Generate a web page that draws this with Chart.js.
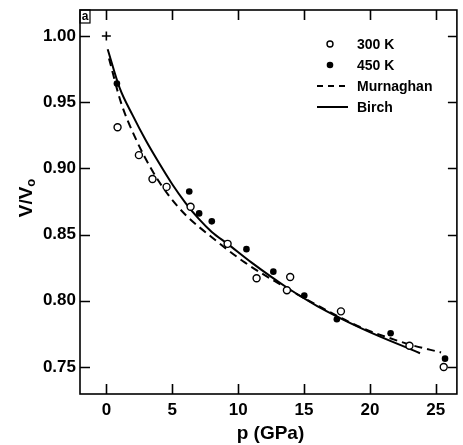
<!DOCTYPE html>
<html>
<head>
<meta charset="utf-8">
<script src="https://cdn.jsdelivr.net/npm/chart.js@4/dist/chart.umd.min.js"></script>
<style>
html, body { margin: 0; padding: 0; background: #fff; }
#wrap { width: 463px; height: 445px; }
</style>
</head>
<body>
<div id="wrap"><canvas id="myChart" width="463" height="445"></canvas></div>
<script>
// tick values
const xTicks = [0, 5, 10, 15, 20, 25];
const yTicks = [0.75, 0.80, 0.85, 0.90, 0.95, 1.00];

// measured points, 300 K (open circles)
const p300 = [0.85, 2.47, 3.5, 4.57, 6.39, 9.2, 11.4, 13.7, 13.95, 17.8, 23.0, 25.6];
const v300 = [0.931, 0.910, 0.892, 0.886, 0.871, 0.843, 0.817, 0.808, 0.818, 0.792, 0.766, 0.750];

// measured points, 450 K (filled circles)
const p450 = [0.8, 6.29, 7.04, 8.0, 10.63, 12.67, 15.02, 17.49, 21.57, 25.7];
const v450 = [0.964, 0.8825, 0.866, 0.860, 0.839, 0.822, 0.804, 0.786, 0.7755, 0.7563];

// reference point at p = 0
const pZero = [0];
const vZero = [1.00];

// fitted curves
const pMurn = [0.2, 1.1, 2.2, 3.5, 4.7, 6.0, 8.0, 10.5, 13.0, 16.2, 19.4, 21.9, 23.0, 25.4];
const vMurn = [0.983, 0.950, 0.923, 0.898, 0.880, 0.865, 0.848, 0.829, 0.8135, 0.7955, 0.7795, 0.7705, 0.767, 0.761];
const pBirch = [0.1, 1.0, 2.0, 3.0, 4.0, 5.0, 6.0, 7.0, 8.0, 9.2, 11.0, 13.7, 16.0, 19.4, 23.8];
const vBirch = [0.990, 0.961, 0.940, 0.921, 0.904, 0.888, 0.874, 0.862, 0.852, 0.843, 0.829, 0.810, 0.796, 0.779, 0.7604];

const pts = (xs, ys) => xs.map((x, i) => ({ x: x, y: ys[i] }));

const FONT = '"Liberation Sans", Arial, sans-serif';

const framePlugin = {
	id: 'frame',
	afterDraw(chart) {
		const ctx = chart.ctx;
		const a = chart.chartArea;
		const xs = chart.scales.x, ys = chart.scales.y;
		ctx.save();
		ctx.strokeStyle = '#000';
		ctx.fillStyle = '#000';
		ctx.lineWidth = 1.6;
		ctx.strokeRect(a.left, a.top, a.right - a.left, a.bottom - a.top);

		// inward ticks
		ctx.beginPath();
		xTicks.forEach(v => {
			const px = Math.round(xs.getPixelForValue(v)) + 0.5;
			ctx.moveTo(px, a.bottom); ctx.lineTo(px, a.bottom - 10);
			ctx.moveTo(px, a.top); ctx.lineTo(px, a.top + 10);
		});
		yTicks.forEach(v => {
			const py = Math.round(ys.getPixelForValue(v)) + 0.5;
			ctx.moveTo(a.left, py); ctx.lineTo(a.left + 10, py);
			ctx.moveTo(a.right, py); ctx.lineTo(a.right - 9, py);
		});
		ctx.stroke();

		// panel letter
		ctx.lineWidth = 1.2;
		ctx.strokeRect(a.left, a.top, 10, 13);
		ctx.font = 'bold 12px ' + FONT;
		ctx.textAlign = 'center';
		ctx.textBaseline = 'middle';
		ctx.fillText('a', a.left + 5, a.top + 7);

		// axis titles
		ctx.font = 'bold 19px ' + FONT;
		ctx.textAlign = 'center';
		ctx.textBaseline = 'alphabetic';
		ctx.fillText('p (GPa)', (a.left + a.right) / 2 + 2, 439);

		ctx.save();
		ctx.translate(32, 198);
		ctx.rotate(-Math.PI / 2);
		ctx.font = 'bold 19px ' + FONT;
		ctx.textAlign = 'left';
		const main = 'V/V';
		const w = ctx.measureText(main).width;
		ctx.font = 'bold 13px ' + FONT;
		const ws = ctx.measureText('o').width;
		const x0 = -(w + ws) / 2;
		ctx.font = 'bold 19px ' + FONT;
		ctx.fillText(main, x0, 0);
		ctx.font = 'bold 13px ' + FONT;
		ctx.fillText('o', x0 + w, 3);
		ctx.restore();

		// legend
		const rows = [
			{ label: '300 K', kind: 'open', y: 44 },
			{ label: '450 K', kind: 'filled', y: 65 },
			{ label: 'Murnaghan', kind: 'dash', y: 86 },
			{ label: 'Birch', kind: 'solid', y: 107 }
		];
		rows.forEach(r => {
			ctx.beginPath();
			if (r.kind === 'open') {
				ctx.lineWidth = 1.4;
				ctx.arc(330, r.y, 3, 0, Math.PI * 2);
				ctx.stroke();
			} else if (r.kind === 'filled') {
				ctx.arc(330, r.y, 3.3, 0, Math.PI * 2);
				ctx.fill();
			} else {
				ctx.lineWidth = 2;
				ctx.setLineDash(r.kind === 'dash' ? [6, 5] : []);
				ctx.moveTo(317, r.y); ctx.lineTo(348, r.y);
				ctx.stroke();
				ctx.setLineDash([]);
			}
			ctx.font = 'bold 14px ' + FONT;
			ctx.textAlign = 'left';
			ctx.textBaseline = 'middle';
			ctx.fillText(r.label, 357, r.y + 1);
		});
		ctx.restore();
	}
};

const noPad = s => { s.paddingTop = 0; s.paddingBottom = 0; s.paddingLeft = 0; s.paddingRight = 0; };

new Chart(document.getElementById('myChart').getContext('2d'), {
	type: 'scatter',
	data: {
		datasets: [
			{
				label: '300 K',
				data: pts(p300, v300),
				pointStyle: 'circle',
				pointRadius: 3.5,
				pointBackgroundColor: '#fff',
				pointBorderColor: '#000',
				pointBorderWidth: 1.4
			},
			{
				label: '450 K',
				data: pts(p450, v450),
				pointStyle: 'circle',
				pointRadius: 3.3,
				pointBackgroundColor: '#000',
				pointBorderColor: '#000',
				pointBorderWidth: 0
			},
			{
				label: 'p = 0',
				data: pts(pZero, vZero),
				pointStyle: 'cross',
				pointRadius: 4.5,
				pointBorderColor: '#000',
				pointBorderWidth: 1.6
			},
			{
				label: 'Murnaghan',
				data: pts(pMurn, vMurn),
				showLine: true,
				borderColor: '#000',
				borderWidth: 2,
				borderDash: [8, 5],
				pointRadius: 0,
				cubicInterpolationMode: 'monotone'
			},
			{
				label: 'Birch',
				data: pts(pBirch, vBirch),
				showLine: true,
				borderColor: '#000',
				borderWidth: 2,
				pointRadius: 0,
				cubicInterpolationMode: 'monotone'
			}
		]
	},
	options: {
		responsive: false,
		animation: false,
		layout: { padding: { left: 0, right: 1, top: 10, bottom: 0 } },
		plugins: { legend: { display: false }, tooltip: { enabled: false } },
		scales: {
			x: {
				type: 'linear',
				min: -2.0,
				max: 26.6,
				afterFit: s => { s.height = 51; noPad(s); },
				afterBuildTicks: s => { s.ticks = xTicks.map(v => ({ value: v })); },
				grid: { display: false, drawTicks: false },
				border: { display: false },
				ticks: { color: '#000', padding: 6, font: { family: FONT, size: 17, weight: 'bold' } }
			},
			y: {
				type: 'linear',
				min: 0.7296,
				max: 1.0196,
				afterFit: s => { s.width = 80; noPad(s); },
				afterBuildTicks: s => { s.ticks = yTicks.map(v => ({ value: v })); },
				grid: { display: false, drawTicks: false },
				border: { display: false },
				ticks: {
					color: '#000', padding: 4,
					font: { family: FONT, size: 17, weight: 'bold' },
					callback: v => v.toFixed(2)
				}
			}
		}
	},
	plugins: [framePlugin]
});
</script>
</body>
</html>
